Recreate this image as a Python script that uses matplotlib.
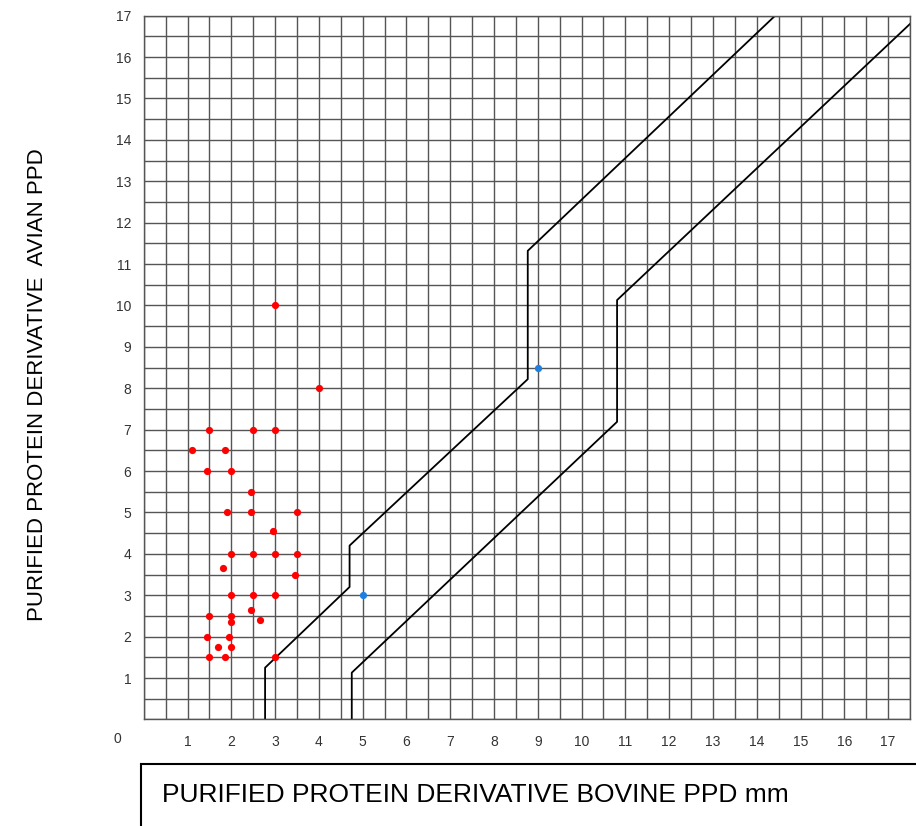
import numpy as np
import matplotlib
matplotlib.use('Agg')
import matplotlib.pyplot as plt
from matplotlib.patches import Rectangle

# red reactors (bovine mm, avian mm)
red_x = [1.5, 2.5, 3.0, 1.1, 1.85, 1.45, 2.0, 2.45, 1.9, 2.45, 3.5, 2.95,
         2.0, 2.5, 3.0, 3.5, 1.8, 3.45, 2.0, 2.5, 3.0, 2.45, 1.5, 2.0,
         2.0, 2.65, 1.45, 1.95, 1.7, 2.0, 1.5, 1.85, 3.0, 3.0, 4.0]
red_y = [7.0, 7.0, 7.0, 6.5, 6.5, 6.0, 6.0, 5.5, 5.0, 5.0, 5.0, 4.55,
         4.0, 4.0, 4.0, 4.0, 3.65, 3.5, 3.0, 3.0, 3.0, 2.65, 2.5, 2.5,
         2.35, 2.4, 2.0, 2.0, 1.75, 1.75, 1.5, 1.5, 1.5, 10.0, 8.0]

blue_x = [5.0, 9.0]
blue_y = [3.0, 8.5]

# boundary lines
line1_x = [2.77, 2.77, 4.7, 4.7, 8.77, 8.77, 14.42]
line1_y = [0.0, 1.25, 3.2, 4.2, 8.22, 11.32, 17.0]
line2_x = [4.75, 4.75, 10.81, 10.81, 17.5]
line2_y = [0.0, 1.13, 7.19, 10.13, 16.8]

fig = plt.figure(figsize=(9.16, 8.26), dpi=100)
ax = fig.add_axes([0.157, 0.129, 0.8364, 0.852])

ax.set_xlim(0, 17.5)
ax.set_ylim(0, 17)

grid_col = '#555555'
ax.set_xticks(np.arange(1, 18, 1))
ax.set_yticks(np.arange(1, 18, 1))
ax.set_xticks(np.arange(0, 17.6, 0.5), minor=True)
ax.set_yticks(np.arange(0, 17.1, 0.5), minor=True)
ax.grid(which='both', color=grid_col, linewidth=1.0)
ax.tick_params(which='both', length=0)
ax.tick_params(axis='x', pad=11, labelsize=10, labelcolor='#333333')
ax.tick_params(axis='y', pad=9, labelsize=10, labelcolor='#333333')
for lab in ax.get_xticklabels() + ax.get_yticklabels():
    lab.set_family('Liberation Sans')
for s in ax.spines.values():
    s.set_color(grid_col)
    s.set_linewidth(1.0)
ax.set_axisbelow(True)

ax.plot(line1_x, line1_y, color='black', linewidth=1.3)
ax.plot(line2_x, line2_y, color='black', linewidth=1.3)

ax.scatter(red_x, red_y, s=27, color='#ff0000', zorder=3, linewidths=0)
ax.scatter(blue_x, blue_y, s=27, color='#1f7fdc', zorder=3, linewidths=0)

ax.annotate('0', xy=(0, 0), xytext=(-26, -20), textcoords='offset pixels',
            ha='center', va='center', fontsize=10, color='#333333',
            family='Liberation Sans')

# y label
fig.text(38 / 916, 1 - 385 / 826, 'PURIFIED PROTEIN DERIVATIVE  AVIAN PPD',
         rotation=90, ha='center', va='center', fontsize=16,
         family='Liberation Sans')

# x label in box
fig.add_artist(Rectangle((141 / 916, -0.2), 1.0, 0.2 + (826 - 764) / 826,
                         transform=fig.transFigure, fill=False,
                         edgecolor='black', linewidth=1.5))
fig.text(162 / 916, 1 - 795 / 826, 'PURIFIED PROTEIN DERIVATIVE BOVINE PPD mm',
         ha='left', va='center', fontsize=19,
         family='Liberation Sans')

fig.savefig('out.png', dpi=100)
plt.close(fig)
